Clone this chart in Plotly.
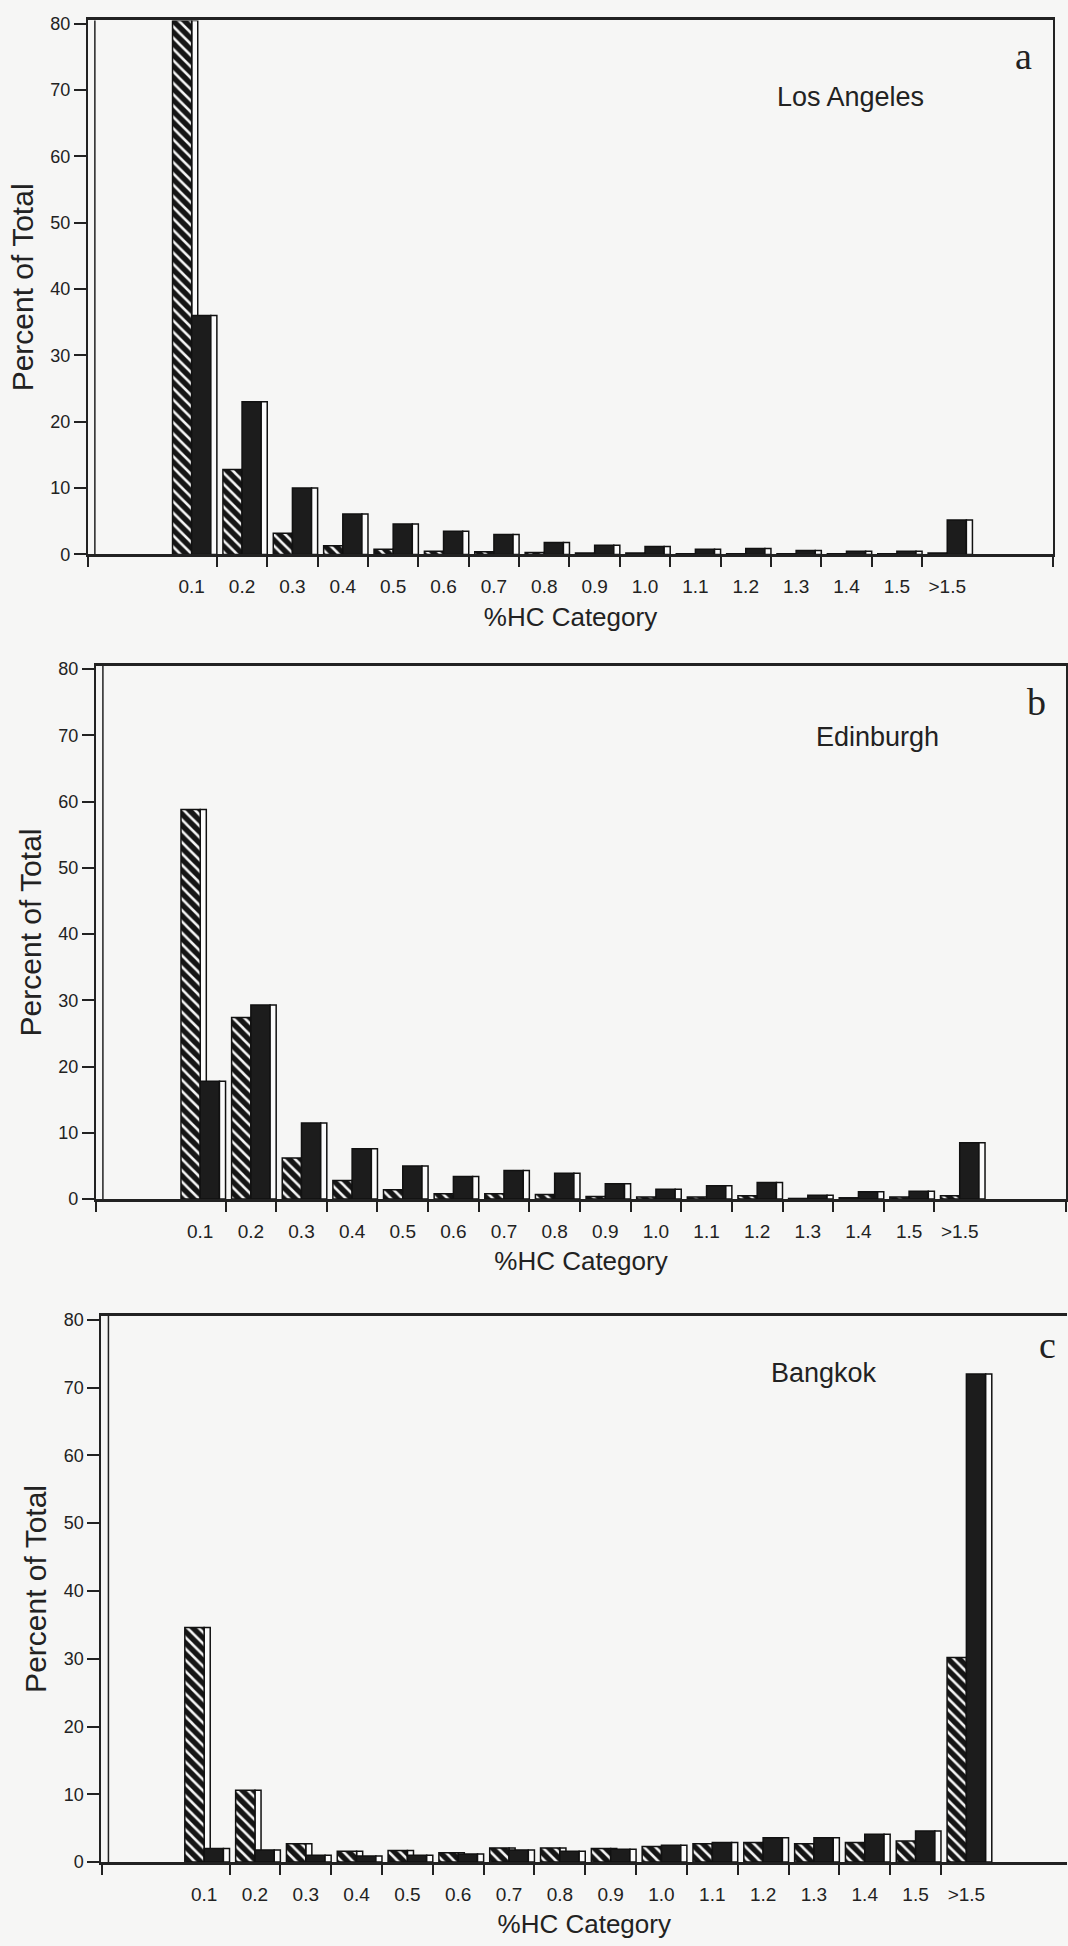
import plotly.graph_objects as go

# ---------------- data ----------------
categories = ["0.1", "0.2", "0.3", "0.4", "0.5", "0.6", "0.7", "0.8",
              "0.9", "1.0", "1.1", "1.2", "1.3", "1.4", "1.5", ">1.5"]
y_ticks = [0, 10, 20, 30, 40, 50, 60, 70, 80]
cities = ["Los Angeles", "Edinburgh", "Bangkok"]
panel_letters = ["a", "b", "c"]

la_hatched = [80.5, 12.8, 3.2, 1.3, 0.8, 0.5, 0.4, 0.3, 0.2, 0.2, 0.1, 0.1, 0.1, 0.1, 0.1, 0.2]
la_solid = [36.0, 23.0, 10.0, 6.1, 4.6, 3.5, 3.0, 1.8, 1.4, 1.2, 0.8, 0.9, 0.6, 0.5, 0.5, 5.2]

ed_hatched = [58.8, 27.4, 6.2, 2.8, 1.4, 0.8, 0.8, 0.7, 0.4, 0.3, 0.3, 0.5, 0.1, 0.2, 0.3, 0.5]
ed_solid = [17.8, 29.3, 11.5, 7.6, 5.0, 3.4, 4.3, 3.9, 2.3, 1.5, 2.0, 2.5, 0.6, 1.1, 1.2, 8.5]

bk_hatched = [34.6, 10.6, 2.7, 1.6, 1.7, 1.4, 2.1, 2.1, 2.0, 2.3, 2.7, 2.9, 2.7, 2.9, 3.1, 30.2]
bk_solid = [2.0, 1.8, 1.0, 0.9, 1.0, 1.2, 1.8, 1.6, 1.9, 2.5, 2.9, 3.6, 3.6, 4.1, 4.6, 72.0]

hatched_series = [la_hatched, ed_hatched, bk_hatched]
solid_series = [la_solid, ed_solid, bk_solid]

# ---------------- styling / layout ----------------
FONT = "Liberation Sans, Arial, sans-serif"
INK = "#222222"
BG = "#f6f6f5"
positions = list(range(1, len(categories) + 1))

panels = [
    dict(xdom=[0.0824, 0.9869], ydom=[0.71583, 0.99255], xr=[-1.06, 18.1], yr=[0, 80.5], right=True,
         city_xy=(0.797, 0.9527), letter_xy=(0.9588, 0.9743)),
    dict(xdom=[0.0899, 0.9991], ydom=[0.38181, 0.65812], xr=[-1.06, 18.1], yr=[0, 80.5], right=True,
         city_xy=(0.822, 0.6213), letter_xy=(0.971, 0.6393)),
    dict(xdom=[0.0951, 1.0], ydom=[0.03828, 0.32138], xr=[-1.02, 17.98], yr=[0, 80.6], right=False,
         city_xy=(0.7725, 0.2919), letter_xy=(0.9813, 0.3063)),
]

fig = go.Figure()
layout = dict(
    width=1068, height=1946,
    margin=dict(l=0, r=0, t=0, b=0),
    paper_bgcolor=BG, plot_bgcolor=BG,
    barmode="overlay", showlegend=False,
    font=dict(family=FONT, color=INK),
)
annotations = []
shapes = []

for k, p in enumerate(panels):
    xa = "x" if k == 0 else f"x{k + 1}"
    ya = "y" if k == 0 else f"y{k + 1}"
    xkey = "xaxis" if k == 0 else f"xaxis{k + 1}"
    ykey = "yaxis" if k == 0 else f"yaxis{k + 1}"
    hv = hatched_series[k]
    sv = solid_series[k]
    line = dict(color="#111111", width=1.5)

    # side face of hatched bar (behind the solid bar)
    fig.add_trace(go.Bar(x=positions, y=hv, width=0.12, offset=0.0, xaxis=xa, yaxis=ya,
                         marker=dict(color="#fbfbfb", line=line), hoverinfo="skip"))
    # hatched front face
    fig.add_trace(go.Bar(x=positions, y=hv, width=0.38, offset=-0.38, xaxis=xa, yaxis=ya,
                         marker=dict(color="#151515", line=line,
                                     pattern=dict(shape="\\", fgcolor="#f4f4f4", bgcolor="#151515",
                                                  size=8, solidity=0.32, fillmode="replace"))))
    # solid front face
    fig.add_trace(go.Bar(x=positions, y=sv, width=0.38, offset=0.0, xaxis=xa, yaxis=ya,
                         marker=dict(color="#1c1c1c", line=line)))
    # side face of solid bar
    fig.add_trace(go.Bar(x=positions, y=sv, width=0.12, offset=0.38, xaxis=xa, yaxis=ya,
                         marker=dict(color="#fbfbfb", line=line), hoverinfo="skip"))

    bounds = [p["xr"][0] + 0.002] + [i + 0.5 for i in positions[:-1]] + ([p["xr"][1] - 0.002] if p["right"] else [])
    layout[xkey] = dict(
        domain=p["xdom"], range=p["xr"], anchor=ya,
        tickmode="array", tickvals=positions, ticktext=categories,
        ticks="outside", ticklen=13, tickcolor="rgba(0,0,0,0)",
        minor=dict(tickmode="array", tickvals=bounds, ticks="outside", ticklen=10,
                   tickwidth=2, tickcolor=INK, showgrid=False),
        tickfont=dict(size=19, family=FONT, color=INK),
        showline=True, linewidth=2.5, linecolor=INK, mirror=True,
        showgrid=False, zeroline=False,
        title=dict(text="%HC Category", font=dict(size=26, family=FONT, color=INK), standoff=12),
    )
    layout[ykey] = dict(
        domain=p["ydom"], range=p["yr"], anchor=xa,
        tickmode="array", tickvals=y_ticks,
        ticks="outside", ticklen=12, tickwidth=2, tickcolor=INK,
        tickfont=dict(size=18, family=FONT, color=INK),
        showline=True, linewidth=2, linecolor=INK, mirror=p["right"],
        showgrid=False, zeroline=False,
        title=dict(text="Percent of Total", font=dict(size=30, family=FONT, color=INK), standoff=8),
    )
    # inner wall line of the 3-D frame
    shapes.append(dict(type="line", xref=f"{xa} domain", yref=f"{ya} domain",
                       x0=0.0072, x1=0.0072, y0=0, y1=1, line=dict(color=INK, width=1.5)))

    annotations.append(dict(text=cities[k], xref="paper", yref="paper",
                            x=p["city_xy"][0], y=p["city_xy"][1], showarrow=False,
                            xanchor="center", yanchor="middle",
                            font=dict(size=27, family=FONT, color=INK)))
    annotations.append(dict(text=panel_letters[k], xref="paper", yref="paper",
                            x=p["letter_xy"][0], y=p["letter_xy"][1], showarrow=False,
                            xanchor="center", yanchor="middle",
                            font=dict(size=38, family="Liberation Serif, Times New Roman, serif", color=INK)))

layout["annotations"] = annotations
layout["shapes"] = shapes
fig.update_layout(**layout)
fig.write_html("out.html")
